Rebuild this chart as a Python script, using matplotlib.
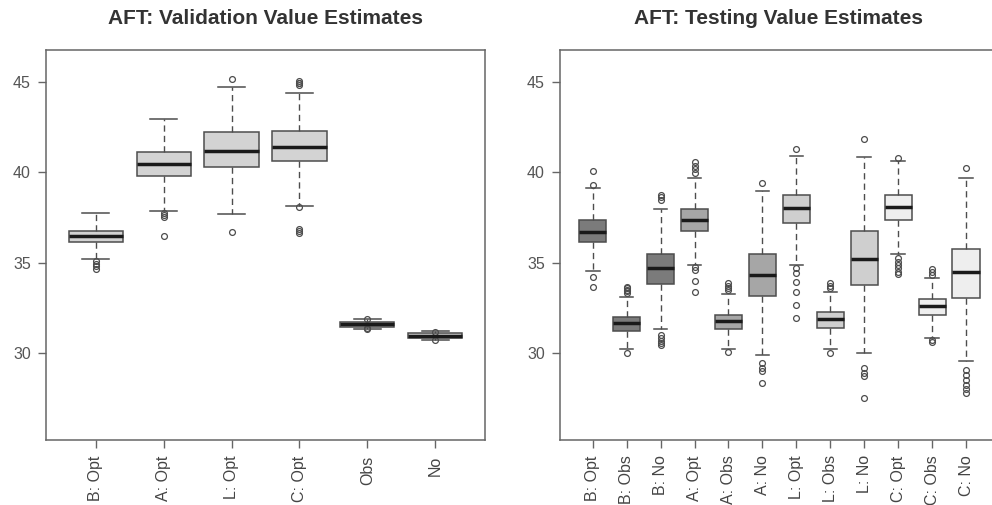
import matplotlib
matplotlib.use("Agg")
import matplotlib.pyplot as plt

plt.rcParams['font.family'] = ['Liberation Sans', 'DejaVu Sans']

# ---- Left panel: validation ----
val_labels = ["B: Opt", "A: Opt", "L: Opt", "C: Opt", "Obs", "No"]
val_whislo = [35.20, 37.86, 37.70, 38.12, 31.34, 30.72]
val_q1     = [36.14, 39.80, 40.29, 40.60, 31.45, 30.85]
val_med    = [36.50, 40.47, 41.17, 41.41, 31.61, 30.98]
val_q3     = [36.76, 41.10, 42.22, 42.30, 31.74, 31.12]
val_whishi = [37.75, 42.96, 44.70, 44.39, 31.89, 31.25]
val_fliers = [
    [35.07, 34.95, 34.83, 34.65],
    [37.74, 37.62, 37.55, 36.45],
    [45.15, 36.69],
    [45.02, 44.95, 44.91, 44.80, 38.10, 36.89, 36.76, 36.63],
    [31.89, 31.40, 31.36],
    [31.20, 30.72],
]
val_colors = ["#d3d3d3"] * 6

# ---- Right panel: testing ----
test_labels = ["B: Opt", "B: Obs", "B: No", "A: Opt", "A: Obs", "A: No",
               "L: Opt", "L: Obs", "L: No", "C: Opt", "C: Obs", "C: No"]
test_whislo = [34.53, 30.23, 31.35, 34.88, 30.23, 29.93, 34.88, 30.23, 29.99, 35.51, 30.87, 29.60]
test_q1     = [36.13, 31.22, 33.83, 36.76, 31.35, 33.19, 37.18, 31.38, 33.76, 37.36, 32.14, 33.08]
test_med    = [36.70, 31.66, 34.70, 37.36, 31.79, 34.33, 38.01, 31.92, 35.21, 38.06, 32.62, 34.48]
test_q3     = [37.36, 32.03, 35.51, 37.99, 32.14, 35.51, 38.74, 32.29, 36.76, 38.74, 32.99, 35.75]
test_whishi = [39.11, 33.13, 37.99, 39.66, 33.26, 38.97, 40.92, 33.41, 40.84, 40.60, 34.14, 39.66]
test_fliers = [
    [40.05, 39.30, 34.22, 33.65],
    [33.68, 33.60, 33.50, 33.42, 33.35, 29.99],
    [38.73, 38.62, 38.47, 31.02, 30.87, 30.70, 30.56, 30.45],
    [40.55, 40.36, 40.16, 39.94, 34.79, 34.60, 34.01, 33.39],
    [33.87, 33.72, 33.59, 33.50, 30.06],
    [39.41, 29.45, 29.18, 29.03, 28.37],
    [41.28, 34.70, 34.42, 33.91, 33.39, 32.65, 31.97],
    [33.87, 33.74, 33.59, 29.99],
    [41.84, 29.18, 28.90, 28.77, 27.54],
    [40.79, 35.25, 35.06, 34.88, 34.70, 34.51, 34.37],
    [34.68, 34.51, 34.33, 30.74, 30.61],
    [40.23, 29.08, 28.81, 28.53, 28.26, 28.02, 27.80],
]
test_colors = ["#7b7b7b"] * 3 + ["#a6a6a6"] * 3 + ["#cfcfcf"] * 3 + ["#eeeeee"] * 3

yticks = [30, 35, 40, 45]


def make_stats(labels, lo, q1, med, q3, hi, fl):
    return [dict(label=l, whislo=a, q1=b, med=c, q3=d, whishi=e, fliers=f)
            for l, a, b, c, d, e, f in zip(labels, lo, q1, med, q3, hi, fl)]


fig = plt.figure(figsize=(9.92, 5.05), dpi=100)
W, H = 992, 505
ax1 = fig.add_axes([46 / W, (H - 440) / H, 439 / W, 390 / H])
ax2 = fig.add_axes([560 / W, (H - 440) / H, 440 / W, 390 / H])

edge = "#4d4d4d"


def draw(ax, stats, colors, xlim):
    bp = ax.bxp(stats, widths=0.8, patch_artist=True, showfliers=True,
                boxprops=dict(edgecolor=edge, linewidth=1.1),
                whiskerprops=dict(color=edge, linewidth=1.0, linestyle=(0, (4.5, 3))),
                capprops=dict(color=edge, linewidth=1.1),
                medianprops=dict(color="#1a1a1a", linewidth=2.5, solid_capstyle="butt"),
                flierprops=dict(marker="o", markerfacecolor="none",
                                markeredgecolor=edge, markersize=4.2, markeredgewidth=0.9))
    for p, c in zip(bp["boxes"], colors):
        p.set_facecolor(c)
    for cap in bp["caps"]:
        xd = cap.get_xdata()
        m = (xd[0] + xd[1]) / 2
        cap.set_xdata([m - 0.2, m + 0.2])
    ax.set_xlim(*xlim)
    ax.set_ylim(25.21, 46.75)
    ax.set_yticks(yticks)
    ax.set_yticklabels([str(t) for t in yticks])
    ax.tick_params(axis="x", labelrotation=90, length=6, width=1.0, color="#666666",
                   labelsize=11.5, labelcolor="#444444", pad=5)
    ax.tick_params(axis="y", length=6, width=1.0, color="#666666",
                   labelsize=11.5, labelcolor="#555555", pad=5)
    for s in ax.spines.values():
        s.set_color("#666666")
        s.set_linewidth(1.1)


draw(ax1, make_stats(val_labels, val_whislo, val_q1, val_med, val_q3, val_whishi, val_fliers),
     val_colors, (0.265, 6.735))
draw(ax2, make_stats(test_labels, test_whislo, test_q1, test_med, test_q3, test_whishi, test_fliers),
     test_colors, (0.035, 13.0))

fig.text(265 / W, 1 - 18 / H, "AFT: Validation Value Estimates", ha="center", va="center",
         fontsize=15, fontweight="bold", color="#333333")
fig.text(778 / W, 1 - 18 / H, "AFT: Testing Value Estimates", ha="center", va="center",
         fontsize=15, fontweight="bold", color="#333333")

fig.savefig("out.png", dpi=100)
